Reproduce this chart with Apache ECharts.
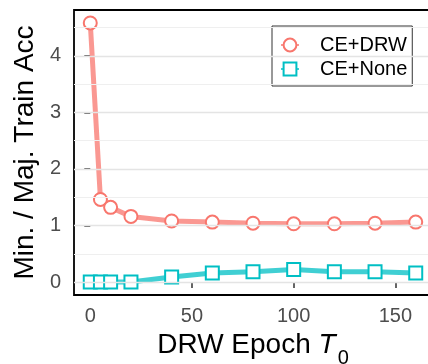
<!DOCTYPE html>
<html>
<head>
<meta charset="utf-8">
<script src="https://cdn.jsdelivr.net/npm/echarts@6/dist/echarts.min.js"></script>
<style>
html,body{margin:0;padding:0;background:#fff;}
#c{width:428px;height:364px;}
</style>
</head>
<body>
<div id="c"></div>
<script>
// Data
const epochs = [0, 5, 10, 20, 40, 60, 80, 100, 120, 140, 160];
const ceDRW  = [4.58, 1.46, 1.32, 1.16, 1.08, 1.06, 1.04, 1.03, 1.03, 1.04, 1.06];
const ceNone = [0, 0, 0, 0, 0.09, 0.16, 0.18, 0.22, 0.18, 0.18, 0.16];
const seriesNames = ['CE+DRW', 'CE+None'];
const xTicks = [0, 50, 100, 150];
const yTicks = [0, 1, 2, 3, 4];
const yMinorGrid = [0.5, 1.5, 2.5, 3.5, 4.5];

const FONT = 'Liberation Sans, Arial, sans-serif';
const chart = echarts.init(document.getElementById('c'), null, {renderer: 'canvas'});

const gridLines = [];
yTicks.forEach(v => gridLines.push({yAxis: v, lineStyle: {color: '#E4E4E4', width: 1.4, type: 'solid'}}));
yMinorGrid.forEach(v => gridLines.push({yAxis: v, lineStyle: {color: '#EFEFEF', width: 1, type: 'solid'}}));

const pair = (xs, ys) => xs.map((x, i) => [x, ys[i]]);

chart.setOption({
  animation: false,
  backgroundColor: '#fff',
  textStyle: {fontFamily: FONT},
  grid: {left: 74, right: -4, top: 10, bottom: 69, outerBoundsMode: 'none', containLabel: false,
         show: true, borderColor: '#000', borderWidth: 1.8, backgroundColor: 'transparent'},
  legend: {
    data: seriesNames,
    orient: 'vertical',
    left: 272, top: 26,
    itemWidth: 18, itemHeight: 16, itemGap: 4,
    padding: [9, 5, 7, 8],
    borderColor: '#333', borderWidth: 1, borderRadius: 0,
    backgroundColor: '#fff',
    textStyle: {fontFamily: FONT, fontSize: 20, color: '#000', lineHeight: 16, padding: [0, 0, 0, 16]}
  },
  xAxis: {
    type: 'value', min: -8, max: 168,
    axisLine: {show: false},
    axisTick: {show: true, customValues: xTicks, length: 6, lineStyle: {color: '#333', width: 1.5}},
    axisLabel: {customValues: xTicks, fontSize: 20, color: '#4D4D4D', margin: 11, fontFamily: FONT},
    splitLine: {show: false},
    name: '{a|DRW Epoch }{t|T}{s|0}',
    nameLocation: 'middle', nameGap: 33,
    nameTextStyle: {
      rich: {
        a: {fontSize: 28, fontFamily: FONT, color: '#000', lineHeight: 34, verticalAlign: 'top'},
        t: {fontSize: 28, fontFamily: FONT, fontStyle: 'italic', color: '#000', lineHeight: 34, verticalAlign: 'top'},
        s: {fontSize: 20, fontFamily: FONT, color: '#000', lineHeight: 20, verticalAlign: 'top', padding: [18, 0, 0, 2]}
      }
    }
  },
  yAxis: {
    type: 'value', min: -0.229, max: 4.809,
    axisLine: {show: false},
    axisTick: {show: true, customValues: yTicks, length: 6, lineStyle: {color: '#333', width: 1.5}},
    axisLabel: {customValues: yTicks, fontSize: 20, color: '#4D4D4D', margin: 13, fontFamily: FONT},
    splitLine: {show: false},
    name: 'Min. / Maj. Train Acc',
    nameLocation: 'middle', nameGap: 30,
    nameTextStyle: {fontSize: 28, fontFamily: FONT, color: '#000'}
  },
  series: [
    {
      name: '_grid', type: 'line', data: [[0, 0]], z: 0, silent: true,
      symbol: 'none', showSymbol: false, lineStyle: {opacity: 0}, legendHoverLink: false,
      markLine: {silent: true, symbol: 'none', label: {show: false}, animation: false, data: gridLines}
    },
    {
      name: seriesNames[0], type: 'line', data: pair(epochs, ceDRW), z: 3,
      symbol: 'circle', symbolSize: 13, showSymbol: true,
      lineStyle: {color: '#F8766D', width: 5, opacity: 0.75},
      itemStyle: {color: '#fff', borderColor: '#F8766D', borderWidth: 2, opacity: 1}
    },
    {
      name: seriesNames[1], type: 'line', data: pair(epochs, ceNone), z: 3,
      symbol: 'rect', symbolSize: 13, showSymbol: true,
      lineStyle: {color: '#00BFC4', width: 5, opacity: 0.75},
      itemStyle: {color: '#fff', borderColor: '#00BFC4', borderWidth: 2, opacity: 1}
    }
  ]
});
</script>
</body>
</html>
